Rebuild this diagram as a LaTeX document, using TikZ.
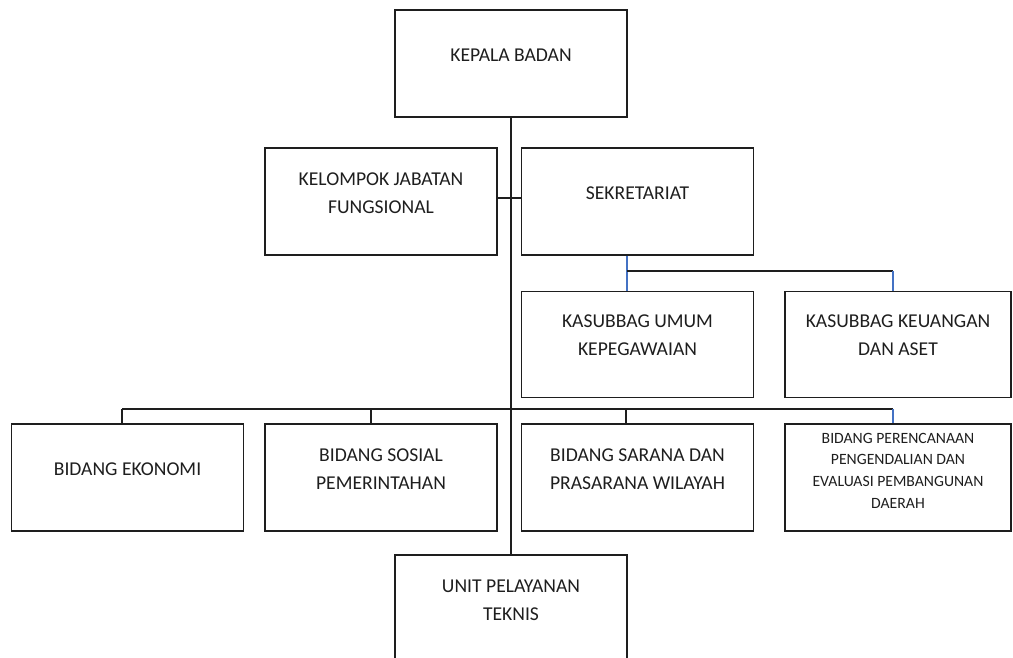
\documentclass[tikz,border=0pt]{standalone}
\usepackage{fontspec}
\setmainfont{Carlito}
\definecolor{hitam}{HTML}{1E1E1E}
\definecolor{biru}{HTML}{4472C4}
\definecolor{tulisan}{HTML}{1E1E1E}
\begin{document}
\begin{tikzpicture}[x=1pt,y=-1pt,
  kotak/.style={draw=hitam,line width=1.3pt,minimum width=232pt,minimum height=107pt,inner sep=0pt},
  teks/.style={align=center,inner sep=0pt,text=tulisan,font=\fontsize{19.6}{28}\selectfont},
  tekskecil/.style={teks,font=\fontsize{15.7}{21.7}\selectfont},
  hubung/.style={draw=hitam,line width=1.1pt},
  hubungbiru/.style={draw=biru,line width=1.1pt}]
\useasboundingbox (0,0) rectangle (1013,657);
\clip (0,0) rectangle (1013,657);
% kotak
\node [kotak] (kepala) at (511,63.5) {};
\node [kotak] (kelompok) at (381,201.5) {};
\node [kotak] (sekretariat) at (637.5,201.5) {};
\node [kotak,minimum height=106pt] (umum) at (637.5,344.5) {};
\node [kotak,minimum width=226pt,minimum height=106pt] (keuangan) at (898,344.5) {};
\node [kotak] (ekonomi) at (127.5,477.5) {};
\node [kotak] (sosial) at (381,477.5) {};
\node [kotak] (sarana) at (637.5,477.5) {};
\node [kotak,minimum width=226pt] (perencanaan) at (898,477.5) {};
\node [kotak] (unit) at (511,608.5) {};
% tulisan
\node [teks] (kepala-t) at ([yshift=8pt]kepala.center) {KEPALA BADAN};
\node [teks] (kelompok-t) at ([yshift=8pt]kelompok.center) {KELOMPOK JABATAN\\FUNGSIONAL};
\node [teks] (sekretariat-t) at ([yshift=8pt]sekretariat.center) {SEKRETARIAT};
\node [teks] (umum-t) at ([yshift=9pt]umum.center) {KASUBBAG UMUM\\KEPEGAWAIAN};
\node [teks] (keuangan-t) at ([yshift=9pt]keuangan.center) {KASUBBAG KEUANGAN\\DAN ASET};
\node [teks] (ekonomi-t) at ([yshift=8pt]ekonomi.center) {BIDANG EKONOMI};
\node [teks] (sosial-t) at ([yshift=8pt]sosial.center) {BIDANG SOSIAL\\PEMERINTAHAN};
\node [teks] (sarana-t) at ([yshift=8pt]sarana.center) {BIDANG SARANA DAN\\PRASARANA WILAYAH};
\node [tekskecil] (perencanaan-t) at ([yshift=7pt]perencanaan.center) {BIDANG PERENCANAAN\\PENGENDALIAN DAN\\EVALUASI PEMBANGUNAN\\DAERAH};
\node [teks] (unit-t) at ([yshift=8pt]unit.center) {UNIT PELAYANAN\\TEKNIS};
% garis penghubung
\coordinate (s1) at (627,271);
\coordinate (s2) at (893,271);
\coordinate (b1) at (122,409);
\coordinate (b2) at (371,409);
\coordinate (b3) at (626,409);
\coordinate (b4) at (893,409);
\draw [hubung] (kepala.south) -- (unit.north);
\draw [hubung] ([yshift=3.5pt]kelompok.east) -- ([yshift=3.5pt]sekretariat.west);
\draw [hubungbiru] (sekretariat.south -| s1) -- (umum.north -| s1);
\draw [hubung] (s1) -- (s2);
\draw [hubungbiru] (s2) -- (keuangan.north -| s2);
\draw [hubung] (b1) -- (b4);
\draw [hubung] (b1) -- (ekonomi.north -| b1);
\draw [hubung] (b2) -- (sosial.north -| b2);
\draw [hubung] (b3) -- (sarana.north -| b3);
\draw [hubungbiru] (b4) -- (perencanaan.north -| b4);
\end{tikzpicture}
\end{document}
